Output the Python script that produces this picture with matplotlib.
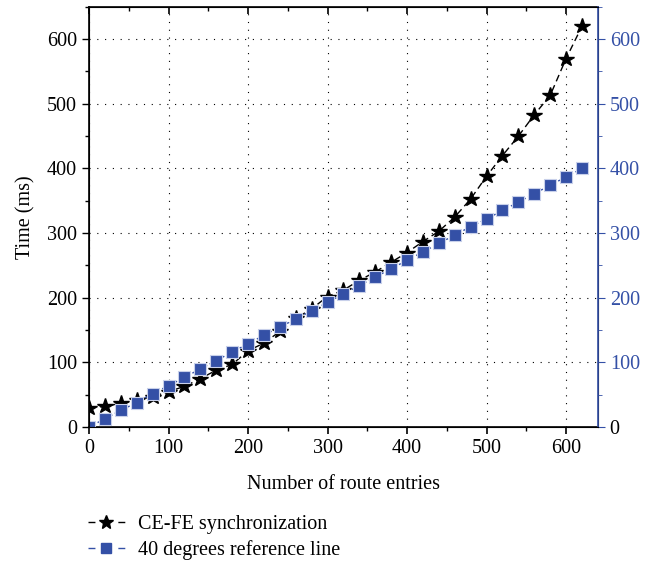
import matplotlib.pyplot as plt
from matplotlib.lines import Line2D
from matplotlib.ticker import MultipleLocator

plt.rcParams['font.family'] = ['Liberation Serif', 'DejaVu Serif']
plt.rcParams['font.size'] = 14.5

entries = [0, 20, 40, 60, 80, 100, 120, 140, 160, 180, 200, 220, 240, 260, 280, 300,
           320, 340, 360, 380, 400, 420, 440, 460, 480, 500, 520, 540, 560, 580, 600, 620]
sync_time = [30, 32, 37, 42, 47, 55, 63, 75, 88, 97, 118, 130, 148, 168, 183, 202,
             212, 227, 240, 255, 270, 287, 303, 325, 353, 388, 420, 450, 483, 513, 570, 620]
ref_line = [0, 13, 26, 38, 52, 64, 77, 90, 103, 116, 129, 142, 155, 167, 180, 193,
            206, 219, 232, 245, 258, 271, 284, 297, 310, 322, 335, 348, 361, 374, 387, 400]

blue = '#3450a6'

fig = plt.figure(figsize=(6.45, 5.65), dpi=100)
ax = fig.add_axes([0.138, 0.244, 0.789, 0.744])
ax2 = ax.twinx()

ax.plot(entries, sync_time, color='black', ls=(0, (5, 3)), lw=1.0,
        marker='*', ms=11.5, mfc='black', mec='black', zorder=3)
ax2.plot(entries, ref_line, color=blue, ls=(0, (1.5, 2)), lw=1.0,
         marker='s', ms=8.5, mfc=blue, mec='#c8d0ea', mew=0.8, zorder=2)

for a in (ax, ax2):
    a.set_xlim(0, 640)
    a.set_ylim(0, 650)
    a.yaxis.set_major_locator(MultipleLocator(100))
    a.yaxis.set_minor_locator(MultipleLocator(50))

ax.xaxis.set_major_locator(MultipleLocator(100))
ax.xaxis.set_minor_locator(MultipleLocator(50))
ax.grid(True, which='major', color='black', ls=(0, (1, 6)), lw=0.8)
ax.tick_params(axis='x', which='both', direction='out', top=True, bottom=True)
ax.tick_params(axis='x', which='major', length=5, width=1.2)
ax.tick_params(axis='x', which='minor', length=3, width=1.0)
ax.tick_params(axis='y', which='major', direction='out', length=5, width=1.0)
ax.tick_params(axis='y', which='minor', direction='out', length=3, width=1.0)
for t in ax.xaxis.get_major_ticks() + ax.xaxis.get_minor_ticks():
    t.tick2line.set_marker(3)
for sp in ('left', 'bottom', 'top'):
    ax.spines[sp].set_linewidth(1.2)

ax2.spines['right'].set_color(blue)
ax2.spines['right'].set_linewidth(1.2)
ax2.tick_params(axis='y', which='both', colors=blue, direction='out')
ax2.tick_params(axis='y', which='major', length=5)
ax2.tick_params(axis='y', which='minor', length=3)
ax2.set_yticks(range(0, 700, 100))
ax2.set_yticklabels(['0', '100', '200', '300', '400', '500', '600'])
ax2.get_yticklabels()[0].set_color('black')

ax.set_xlabel('Number of route entries', labelpad=12)
ax.set_ylabel('Time (ms)', labelpad=8)

h1 = Line2D([], [], color='black', ls=(0, (5, 16.5)), lw=1.0,
            marker='*', ms=10, mfc='black', mec='black')
h2 = Line2D([], [], color=blue, ls=(0, (5, 16.5)), lw=1.0,
            marker='s', ms=7, mfc=blue, mec=blue)
fig.legend([h1, h2], ['CE-FE synchronization', '40 degrees reference line'],
           loc='upper left', bbox_to_anchor=(0.136, 0.088), frameon=False,
           handlelength=1.84, handletextpad=0.65, labelspacing=0.3,
           borderaxespad=0, borderpad=0)

fig.savefig('out.png')
